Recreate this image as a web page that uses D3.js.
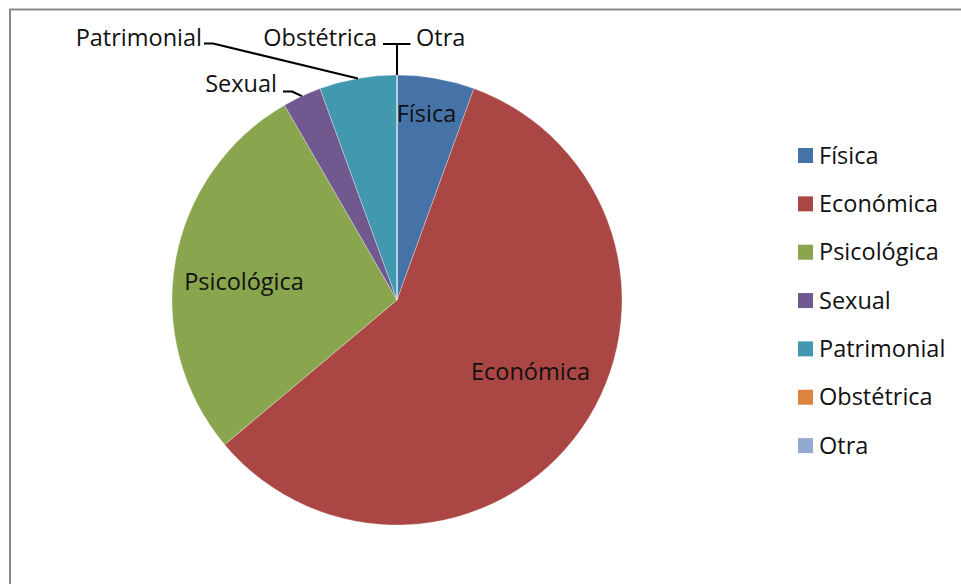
<!DOCTYPE html>
<html>
<head>
<meta charset="utf-8">
<script src="https://cdn.jsdelivr.net/npm/d3@7"></script>
<style>
  html, body { margin: 0; padding: 0; background: #fff; }
  svg { display: block; }
  text { font-family: "Open Sans", sans-serif; font-size: 23.5px; fill: #111; }
</style>
</head>
<body>
<svg id="chart" width="961" height="584"></svg>
<script>
// ---- data ----
const categories = ["Física", "Económica", "Psicológica", "Sexual", "Patrimonial", "Obstétrica", "Otra"];
const values = [2, 21, 10, 1, 2, 0, 0];
const colors = ["#4572A7", "#AA4643", "#89A54E", "#71588F", "#4198AF", "#DB843D", "#93A9CF"];

// ---- layout ----
const W = 961, H = 584;
const cx = 397, cy = 300, R = 225;
// label layout: inside labels (center x, baseline y), outside labels with leader anchors
const labelLayout = {
  "Física":      { x: 426.5, y: 121.5, anchor: "middle" },
  "Económica":   { x: 530.5, y: 379.5, anchor: "middle" },
  "Psicológica": { x: 244,   y: 289.5, anchor: "middle" },
  "Sexual":      { x: 277,   y: 92,  anchor: "end",   line: [[283, 91.5], [292, 91.5]] },
  "Patrimonial": { x: 202,   y: 46,  anchor: "end",   line: [[204, 43.5], [213, 43.5]] },
  "Obstétrica":  { x: 377,   y: 46,  anchor: "end",   line: [[383, 44], [397, 44]] },
  "Otra":        { x: 416,   y: 46,  anchor: "start", line: [[410.5, 44], [397, 44]] }
};

const svg = d3.select("#chart");

// border frame
svg.append("rect")
  .attr("x", 10).attr("y", 9.5)
  .attr("width", W + 20).attr("height", H + 20)
  .attr("fill", "none").attr("stroke", "#8a8a8a").attr("stroke-width", 2);

const data = categories.map((c, i) => ({ name: c, value: values[i], color: colors[i] }));

const pie = d3.pie().sort(null).value(d => d.value);
const arcs = pie(data);
const arc = d3.arc().innerRadius(0).outerRadius(R);
const edge = d3.arc().innerRadius(R).outerRadius(R);

const g = svg.append("g").attr("transform", `translate(${cx},${cy})`);

g.selectAll("path.slice")
  .data(arcs)
  .enter().append("path")
  .attr("class", "slice")
  .attr("d", arc)
  .attr("fill", d => d.data.color)
  .attr("stroke", "rgba(255,255,255,0.45)")
  .attr("stroke-width", 0.7);

// leader lines
const lineGen = d3.line();
arcs.forEach(d => {
  const L = labelLayout[d.data.name];
  if (!L.line) return;
  const p = edge.centroid(d);
  const pts = L.line.concat([[cx + p[0], cy + p[1]]]);
  svg.append("path")
    .attr("d", lineGen(pts))
    .attr("fill", "none")
    .attr("stroke", "#000")
    .attr("stroke-width", 2)
    .attr("stroke-linejoin", "round");
});

// labels
arcs.forEach(d => {
  const L = labelLayout[d.data.name];
  svg.append("text")
    .attr("x", L.x).attr("y", L.y)
    .attr("text-anchor", L.anchor)
    .text(d.data.name);
});

// legend
const legend = svg.append("g").attr("transform", "translate(798,148)");
const item = legend.selectAll("g.item")
  .data(data)
  .enter().append("g")
  .attr("class", "item")
  .attr("transform", (d, i) => `translate(0,${i * 48.35})`);
item.append("rect")
  .attr("width", 15).attr("height", 15)
  .attr("fill", d => d.color);
item.append("text")
  .attr("x", 21).attr("y", 15.5)
  .text(d => d.name);
</script>
</body>
</html>
